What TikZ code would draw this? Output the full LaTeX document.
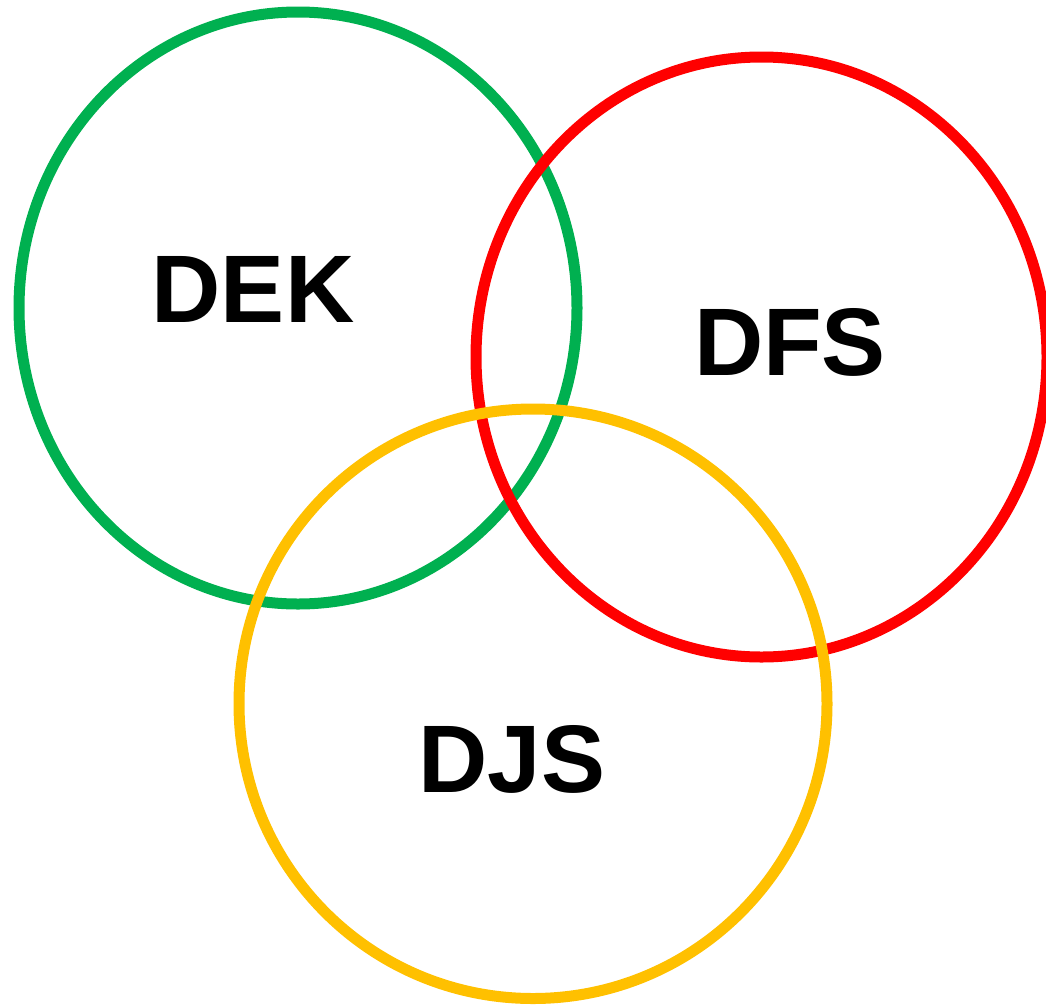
\documentclass[tikz,border=0pt]{standalone}
\usepackage{fontspec}
\setmainfont{Liberation Sans}
\definecolor{vgreen}{HTML}{00B050}
\definecolor{vred}{HTML}{FF0000}
\definecolor{vyellow}{HTML}{FFC000}
\begin{document}
\begin{tikzpicture}[x=1pt,y=-1pt,
  ring/.style={line width=11pt},
  lbl/.style={font=\fontsize{96}{96}\selectfont\bfseries, inner sep=0pt, anchor=base}]
\useasboundingbox (0,0) rectangle (1046,1004);
\draw[ring, vgreen] (298,308) ellipse [x radius=279, y radius=296];
\draw[ring, vred] (761.5,357) ellipse [x radius=285.5, y radius=300];
\draw[ring, vyellow] (533,703.75) ellipse [x radius=294, y radius=294.75];
\node[lbl] (dek) at (253,322) {DEK};
\node[lbl] (dfs) at (790,375) {DFS};
\node[lbl] (djs) at (512,792) {DJS};
\end{tikzpicture}
\end{document}
